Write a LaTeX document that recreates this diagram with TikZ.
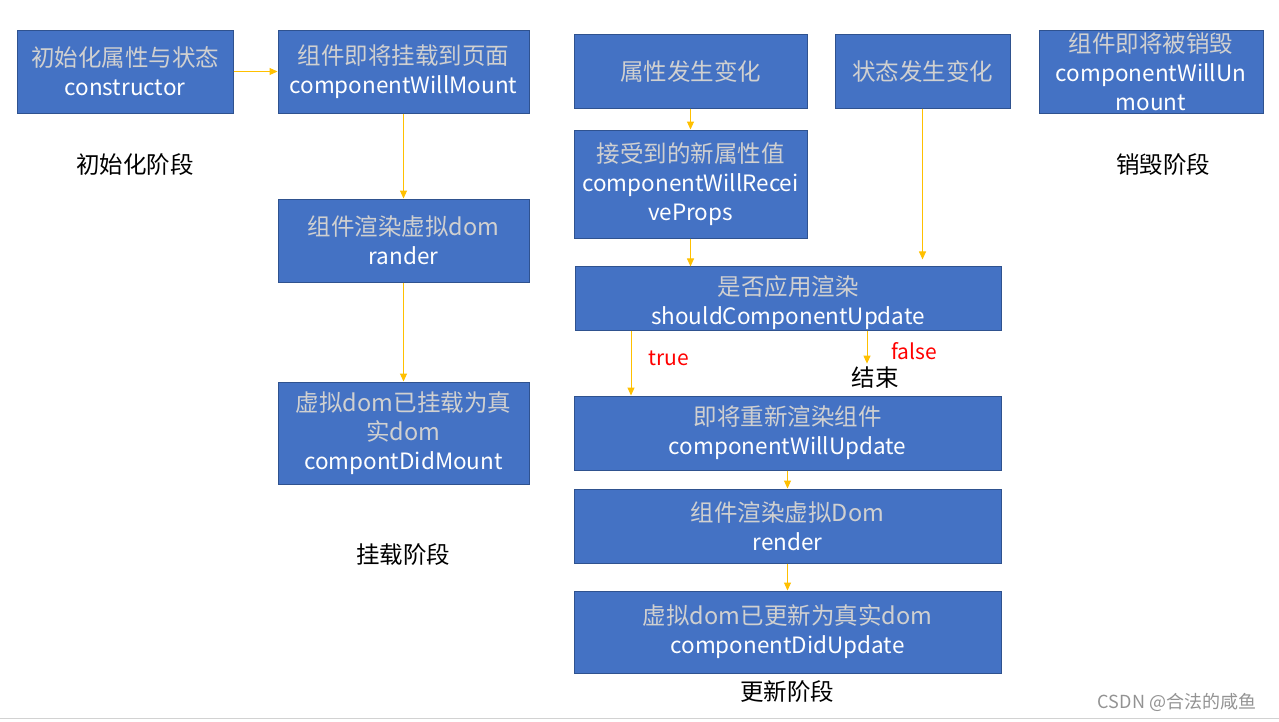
\documentclass[tikz,border=0pt]{standalone}
\usepackage{fontspec}
\setmainfont{Noto Sans CJK SC}
\usetikzlibrary{arrows.meta}
\definecolor{boxblue}{HTML}{4472C4}
\definecolor{boxedge}{HTML}{2F528F}
\definecolor{zhgray}{HTML}{D0D0D0}
\definecolor{arrowc}{HTML}{FFC000}
\newcommand\zh[1]{\textcolor{zhgray}{\fontsize{23.5}{29}\selectfont #1}}
\begin{document}
\begin{tikzpicture}[x=1pt, y=-1pt]
  \tikzstyle{box} = [rectangle, draw=boxedge, fill=boxblue, line width=1pt, inner sep=0pt,
                     align=center, text=white, font=\fontsize{22.5}{29}\selectfont]
  \tikzstyle{stage} = [font=\fontsize{23.5}{28}\selectfont, text=black]
  \tikzstyle{cond} = [font=\fontsize{21}{26}\selectfont, text=red]
  \tikzstyle{arr} = [draw=arrowc, line width=1pt, -{Triangle[length=8pt,width=7pt]}, fill=arrowc]
\useasboundingbox (0,0) rectangle (1279,721);
% mounting
\node[box, minimum width=216, minimum height=83] (init) at (125,71.5) {\zh{初始化属性与状态}\\constructor};
\node[box, minimum width=251, minimum height=83] (mount) at (403.5,71.5) {\zh{组件即将挂载到页面}\\componentWillMount};
\node[box, minimum width=251, minimum height=83] (rander) at (403.5,240.5) {\zh{组件渲染虚拟dom}\\rander};
\node[box, minimum width=251, minimum height=102] (didmount) at (403.5,433) {\zh{虚拟dom已挂载为真}\\\zh{实dom}\\compontDidMount};
% updating
\node[box, minimum width=233, minimum height=74] (propchg) at (690.5,71) {\zh{属性发生变化}};
\node[box, minimum width=175, minimum height=74] (statechg) at (922.5,71) {\zh{状态发生变化}};
\node[box, minimum width=233, minimum height=108] (receive) at (690.5,184) {\zh{接受到的新属性值}\\componentWillRecei\\veProps};
\node[box, minimum width=426, minimum height=63] (should) at (788,298.5) {\zh{\rule{0pt}{29pt}是否应用渲染}\\shouldComponentUpdate};
\node[box, minimum width=427, minimum height=74] (willupd) at (787.5,433) {\zh{即将重新渲染组件}\\componentWillUpdate};
\node[box, minimum width=427, minimum height=74] (render) at (787.5,526) {\zh{组件渲染虚拟Dom}\\render};
\node[box, minimum width=427, minimum height=82] (didupd) at (787.5,632) {\zh{虚拟dom已更新为真实dom}\\componentDidUpdate};
% unmounting
\node[box, minimum width=224, minimum height=83] (unmount) at (1151,71.5) {\zh{组件即将被销毁}\\componentWillUn\\mount};
% stage labels
\node[stage] (initlbl) at (135,165) {初始化阶段};
\node[stage] (mountlbl) at (403,555) {挂载阶段};
\node[stage] (unmountlbl) at (1163,165) {销毁阶段};
\node[stage] (updlbl) at (787,692) {更新阶段};
\node[stage] (finish) at (875,378) {结束};
\node[cond] (truelbl) at (669,358) {true};
\node[cond] (falselbl) at (914,351) {false};
\node[font=\fontsize{18}{22}\selectfont, text=gray!85] (csdn) at (1177,702) {CSDN @合法的咸鱼};
\draw[gray!35, line width=1pt] (0,718) -- (1279,718);
% connectors
\draw[arr] (init) -- (mount);
\draw[arr] (mount) -- (rander);
\draw[arr] (rander) -- (didmount);
\draw[arr] (propchg) -- (receive);
\draw[arr] (receive.south) -- (receive.south |- should.north);
\draw[arr] (statechg.south) -- ([yshift=7pt]statechg.south |- should.north);
\draw[arr] ([xshift=-157pt]should.south) -- ([xshift=-157pt]should.south |- willupd.north);
\draw[arr] ([xshift=79pt]should.south) -- ([xshift=79pt]should.south |- finish.north);
\draw[arr] (willupd) -- (render);
\draw[arr] (render) -- (didupd);
\end{tikzpicture}
\end{document}
